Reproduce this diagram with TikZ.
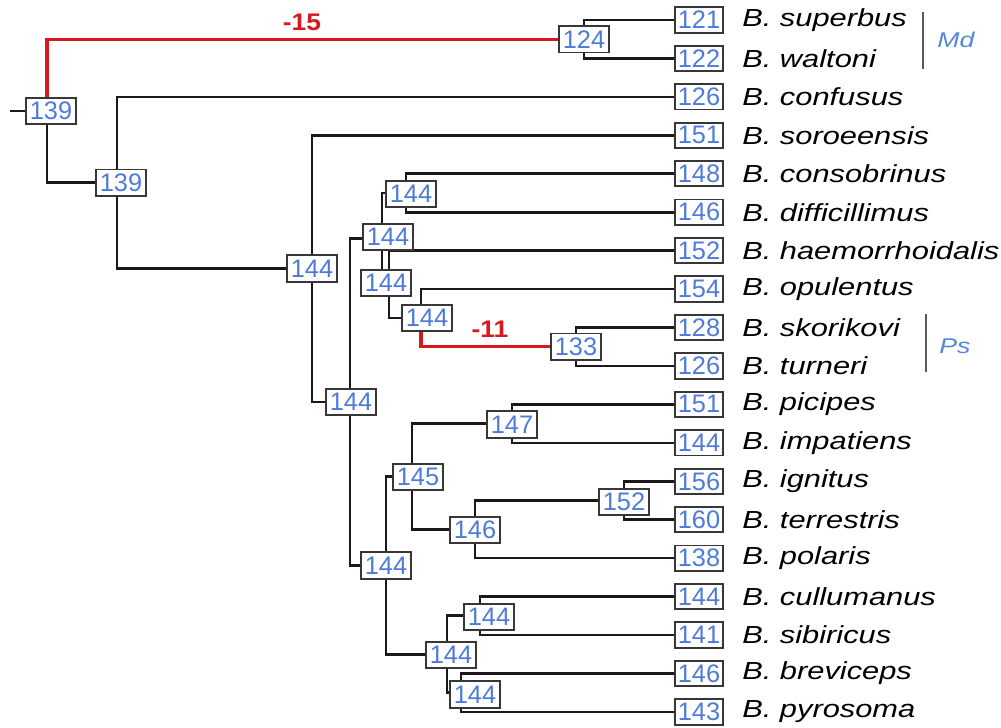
\documentclass[tikz,border=0pt]{standalone}
\usepackage{fontspec}
\setmainfont{Liberation Sans}
\newfontfamily\spfont[FakeStretch=1.25]{Liberation Sans}
\newfontfamily\chfont[FakeStretch=1.1]{Liberation Sans}

\definecolor{numblue}{RGB}{78,122,220}
\definecolor{boxgray}{RGB}{55,55,55}
\definecolor{lossred}{RGB}{215,25,30}
\definecolor{cladeblue}{RGB}{85,135,215}

\begin{document}
\begin{tikzpicture}[x=0.75pt,y=-0.75pt]

    \tikzset{
      branch/.style={line width=2pt, color={black!90}},
      redbranch/.style={line width=2.4pt, color={lossred}},
      state/.style={
        draw={boxgray},
        fill=white,
        line width=1.4pt,
        inner sep=0pt,
        minimum width=37.5pt,
        minimum height=20pt,
        text={numblue},
        font=\fontsize{19}{19}\selectfont,
      },
      tip/.style={state, minimum width=35.5pt, minimum height=19pt},
      species/.style={anchor=west, inner sep=0pt, font=\spfont\itshape\fontsize{18.5}{20}\selectfont},
      change/.style={text={lossred}, font=\chfont\bfseries\fontsize{18}{18}\selectfont},
      cladebar/.style={line width=1.2pt, color={black!65}},
      clade/.style={text={cladeblue}, font=\spfont\itshape\fontsize{16}{18}\selectfont},
    }

    \useasboundingbox (0,0) rectangle (1001,728);

    % vertices of the tree (x of the vertical line, y of the node)
    \coordinate (vroot) at (47,111);
    \coordinate (vmd) at (584,39.2);
    \coordinate (vb) at (117,182.8);
    \coordinate (vc) at (312,268.7);
    \coordinate (vd) at (350,402);
    \coordinate (ve) at (382,238.6);
    \coordinate (vf) at (406,193);
    \coordinate (vg) at (389,284.3);
    \coordinate (vh) at (421,317.9);
    \coordinate (vps) at (576,346.8);
    \coordinate (vi) at (386,565.4);
    \coordinate (vj) at (412,476.5);
    \coordinate (vk) at (512,423.6);
    \coordinate (vm) at (475,529.3);
    \coordinate (vn) at (624,500.5);
    \coordinate (vo) at (447,654.3);
    \coordinate (vp) at (480,615.8);
    \coordinate (vq) at (461,692.7);
    \coordinate (stem) at (10,111);

    % tips
    \foreach \i/\num/\name in {1/121/superbus, 2/122/waltoni, 3/126/confusus,
        4/151/soroeensis, 5/148/consobrinus, 6/146/difficillimus,
        7/152/haemorrhoidalis, 8/154/opulentus, 9/128/skorikovi, 10/126/turneri,
        11/151/picipes, 12/144/impatiens, 13/156/ignitus, 14/160/terrestris,
        15/138/polaris, 16/144/cullumanus, 17/141/sibiricus, 18/146/breviceps,
        19/143/pyrosoma}{
      \node[tip] (l\i) at (699,{20+(\i-1)*38.44}) {\num};
      \node[species] (s\i) at (742,{20+(\i-1)*38.44}) {B. \name};
    }

    % branches
    \draw[branch] (stem) -- (vroot);
    \draw[redbranch] (vroot) |- (vmd);
    \draw[branch] (vroot) |- (vb);
    \draw[branch] (vmd) |- (l1.west);
    \draw[branch] (vmd) |- (l2.west);
    \draw[branch] (vb) |- (l3.west);
    \draw[branch] (vb) |- (vc);
    \draw[branch] (vc) |- (l4.west);
    \draw[branch] (vc) |- (vd);
    \draw[branch] (vd) |- (ve);
    \draw[branch] (vd) |- (vi);
    \draw[branch] (ve) |- (vf);
    \draw[branch] (ve) |- (vg);
    \draw[branch] (vf) |- (l5.west);
    \draw[branch] (vf) |- (l6.west);
    \draw[branch] (vg) |- (l7.west);
    \draw[branch] (vg) |- (vh);
    \draw[branch] (vh) |- (l8.west);
    \draw[redbranch] (vh) |- (vps);
    \draw[branch] (vps) |- (l9.west);
    \draw[branch] (vps) |- (l10.west);
    \draw[branch] (vi) |- (vj);
    \draw[branch] (vi) |- (vo);
    \draw[branch] (vj) |- (vk);
    \draw[branch] (vj) |- (vm);
    \draw[branch] (vk) |- (l11.west);
    \draw[branch] (vk) |- (l12.west);
    \draw[branch] (vm) |- (vn);
    \draw[branch] (vm) |- (l15.west);
    \draw[branch] (vn) |- (l13.west);
    \draw[branch] (vn) |- (l14.west);
    \draw[branch] (vo) |- (vp);
    \draw[branch] (vo) |- (vq);
    \draw[branch] (vp) |- (l16.west);
    \draw[branch] (vp) |- (l17.west);
    \draw[branch] (vq) |- (l18.west);
    \draw[branch] (vq) |- (l19.west);

    % ancestral states
    \node[state] (broot) at (51,111) {139};
    \node[state] (bmd) at (584,39.2) {124};
    \node[state] (bb) at (121,182.8) {139};
    \node[state] (bc) at (312,268.7) {144};
    \node[state] (bd) at (351,402) {144};
    \node[state] (be) at (388,237) {144};
    \node[state] (bf) at (411,194) {144};
    \node[state] (bg) at (386,283) {144};
    \node[state] (bh) at (427,318) {144};
    \node[state] (bps) at (576,346.8) {133};
    \node[state] (bi) at (386,565.4) {144};
    \node[state] (bj) at (418,477) {145};
    \node[state] (bk) at (512,424.5) {147};
    \node[state] (bm) at (475,530) {146};
    \node[state] (bn) at (624,502) {152};
    \node[state] (bo) at (451,655) {144};
    \node[state] (bp) at (489,617) {144};
    \node[state] (bq) at (475,694.5) {144};

    \node[change] (d15) at (302,22) {-15};
    \node[change] (d11) at (490,329) {-11};

    % clades
    \coordinate (md1) at (923,12);
    \coordinate (md2) at (923,69);
    \coordinate (ps1) at (926,314);
    \coordinate (ps2) at (926,372);
    \draw[cladebar] (md1) -- (md2);
    \draw[cladebar] (ps1) -- (ps2);
    \node[clade] (tmd) at (956,40) {Md};
    \node[clade] (tps) at (955,346) {Ps};

\end{tikzpicture}
\end{document}
